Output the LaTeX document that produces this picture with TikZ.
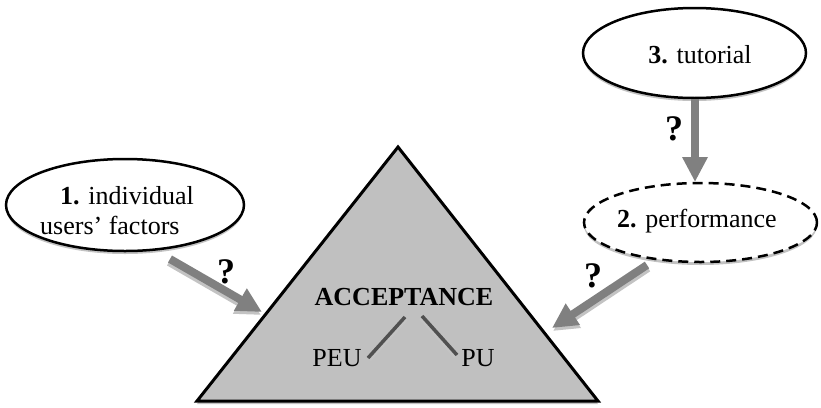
\documentclass[tikz,border=0pt]{standalone}
\usepackage{fontspec}
\setmainfont{Liberation Serif}
\usetikzlibrary{shapes.geometric,arrows.meta,shadows}
\definecolor{arrowgray}{RGB}{128,128,128}
\definecolor{shadowgray}{RGB}{195,195,195}
\definecolor{trifill}{RGB}{192,192,192}
\definecolor{linegray}{RGB}{80,80,80}
\begin{document}
\begin{tikzpicture}[x=1pt,y=-1pt,
  ell/.style={ellipse, draw=black, line width=2.5pt, fill=white, inner sep=0pt,
    drop shadow={shadow xshift=0pt, shadow yshift=-3pt, fill=black!40, opacity=0.6}},
  txt/.style={font=\fontsize{26}{30}\selectfont, inner sep=0pt, anchor=base},
  qm/.style={font=\fontsize{36}{40}\selectfont\bfseries, inner sep=0pt, anchor=base},
  garrow/.style={draw=arrowgray, line width=8pt, -{Triangle[length=25pt,width=24pt]}},
  gshadow/.style={draw=shadowgray, line width=8pt, -{Triangle[length=25pt,width=24pt]}},
  pline/.style={draw=linegray, line width=3.5pt},
  plshadow/.style={draw=shadowgray, line width=3.5pt},
]
\useasboundingbox (0,0) rectangle (821,407);

% triangle
\coordinate (apex) at (398,147);
\coordinate (bl) at (197,401);
\coordinate (br) at (598,401);
\fill[shadowgray] ([yshift=-3pt]bl) -- ([yshift=-3pt]apex) -- ([yshift=-3pt]br) -- cycle;
\filldraw[fill=trifill, draw=black, line width=3pt, line join=miter] (bl) -- (apex) -- (br) -- cycle;

% ellipses
\node[ell, minimum width=238pt, minimum height=92pt] (e1) at (125,205) {};
\node[ell, minimum width=223pt, minimum height=90pt] (e3) at (694.5,53) {};
\node[ell, dash pattern=on 10pt off 6pt, minimum width=233pt, minimum height=79pt] (e2) at (700.5,222.5) {};

% texts
\node[txt, anchor=base west] (t1a) at (60,204) {\textbf{1.} individual};
\node[txt, anchor=base west] (t1b) at (40,234) {users’ factors};
\node[txt] (t3) at (700,63) {\textbf{3.} tutorial};
\node[txt] (t2) at (697,227) {\textbf{2.} performance};
\node[txt, font=\fontsize{26}{30}\selectfont\bfseries] (acc) at (404,305) {ACCEPTANCE};
\node[txt] (peu) at (337,366) {PEU};
\node[txt] (pu) at (478,366) {PU};
\node[qm] (q1) at (226,283) {?};
\node[qm] (q2) at (593,287) {?};
\node[qm] (q3) at (674,140) {?};

% arrows
\coordinate (a1s) at (170,259);
\coordinate (a1e) at (262,312);
\coordinate (a2s) at (647,265);
\coordinate (a2e) at (552,328);
\coordinate (a3s) at (695,99);
\coordinate (a3e) at (695,182);
\draw[gshadow] ([xshift=-1pt,yshift=-3pt]a1s) -- ([xshift=-1pt,yshift=-3pt]a1e);
\draw[garrow] (a1s) -- (a1e);
\draw[gshadow] ([xshift=1pt,yshift=-3pt]a2s) -- ([xshift=1pt,yshift=-3pt]a2e);
\draw[garrow] (a2s) -- (a2e);
\draw[garrow] (a3s) -- (a3e);

% PEU / PU lines
\coordinate (l1a) at (405,317);
\coordinate (l1b) at (368,358);
\coordinate (l2a) at (422,316);
\coordinate (l2b) at (457,355);
\draw[plshadow] ([xshift=1.5pt,yshift=-2pt]l1a) -- ([xshift=1.5pt,yshift=-2pt]l1b);
\draw[pline] (l1a) -- (l1b);
\draw[plshadow] ([xshift=-1.5pt,yshift=-2pt]l2a) -- ([xshift=-1.5pt,yshift=-2pt]l2b);
\draw[pline] (l2a) -- (l2b);
\end{tikzpicture}
\end{document}
